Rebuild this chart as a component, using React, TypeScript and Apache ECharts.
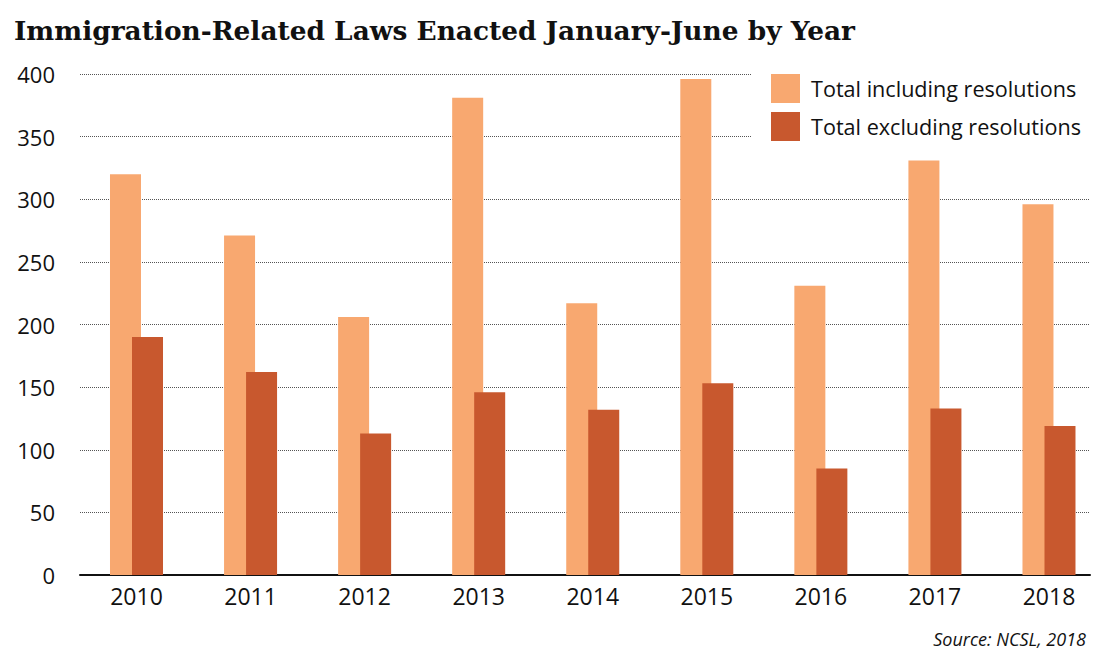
import React, { useEffect, useRef } from "react";
import * as echarts from "echarts";

const years = ["2010", "2011", "2012", "2013", "2014", "2015", "2016", "2017", "2018"];
const includingResolutions = [320, 271, 206, 381, 217, 396, 231, 331, 296];
const excludingResolutions = [190, 162, 113, 146, 132, 153, 85, 133, 119];
const yTicks = [0, 50, 100, 150, 200, 250, 300, 350, 400];

const LIGHT = "#F8A870";
const DARK = "#C8582E";
const FONT = "'Open Sans', 'Noto Sans', sans-serif";

export default function App() {
  const ref = useRef<HTMLDivElement>(null);
  useEffect(() => {
    if (!ref.current) return;
    const chart = echarts.init(ref.current, undefined, { renderer: "svg" });
    const idx = years.map((_, i) => i);
    chart.setOption({
      animation: false,
      backgroundColor: "#ffffff",
      title: [
        {
          text: "Immigration-Related Laws Enacted January-June by Year",
          left: 9,
          top: 12,
          textStyle: {
            fontFamily: "'DejaVu Serif', serif",
            fontWeight: "bold",
            fontSize: 26.4,
            color: "#111",
          },
        },
        {
          text: "Source: NCSL, 2018",
          right: 14,
          top: 625,
          textStyle: {
            fontFamily: FONT,
            fontStyle: "italic",
            fontWeight: "normal",
            fontSize: 18,
            color: "#111",
          },
        },
      ],
      legend: {
        orient: "vertical",
        left: 752,
        top: 64,
        padding: [10, 20, 10, 19],
        backgroundColor: "#ffffff",
        itemWidth: 29,
        itemHeight: 29,
        itemGap: 9,
        icon: "rect",
        textStyle: { fontFamily: FONT, fontSize: 21.6, color: "#111", padding: [0, 0, 3, 6] },
        data: ["Total including resolutions", "Total excluding resolutions"],
      },
      grid: { left: 80, right: 15, top: 74, bottom: 87, containLabel: false },
      xAxis: {
        type: "value",
        min: (80 - 136.5) / 114.06,
        max: (1090 - 136.5) / 114.06,
        axisLine: { show: true, lineStyle: { color: "#111", width: 2 } },
        axisTick: { show: false },
        splitLine: { show: false },
        axisLabel: {
          customValues: idx,
          formatter: (v: number) => years[Math.round(v)] ?? "",
          fontFamily: FONT,
          fontSize: 23,
          color: "#111",
          margin: 9,
        },
      },
      yAxis: {
        type: "value",
        min: 0,
        max: 400,
        interval: 50,
        axisLine: { show: false },
        axisTick: { show: false },
        axisLabel: {
          formatter: (v: number) => (yTicks.includes(v) ? String(v) : ""),
          fontFamily: FONT,
          fontSize: 22,
          color: "#111",
          margin: 25,
        },
        splitLine: { show: true, lineStyle: { type: "dotted", color: "#555", width: 1 } },
      },
      series: [
        {
          name: "Total including resolutions",
          type: "bar",
          data: idx.map((i) => [i, includingResolutions[i]]),
          barWidth: 31,
          barGap: "-29%",
          itemStyle: { color: LIGHT },
        },
        {
          name: "Total excluding resolutions",
          type: "bar",
          data: idx.map((i) => [i, excludingResolutions[i]]),
          barWidth: 31,
          barGap: "-29%",
          itemStyle: { color: DARK },
        },
      ],
    });
    return () => chart.dispose();
  }, []);
  return (
    <div
      ref={ref}
      style={{ position: "fixed", left: 0, top: 0, width: 1105, height: 662 }}
    />
  );
}
